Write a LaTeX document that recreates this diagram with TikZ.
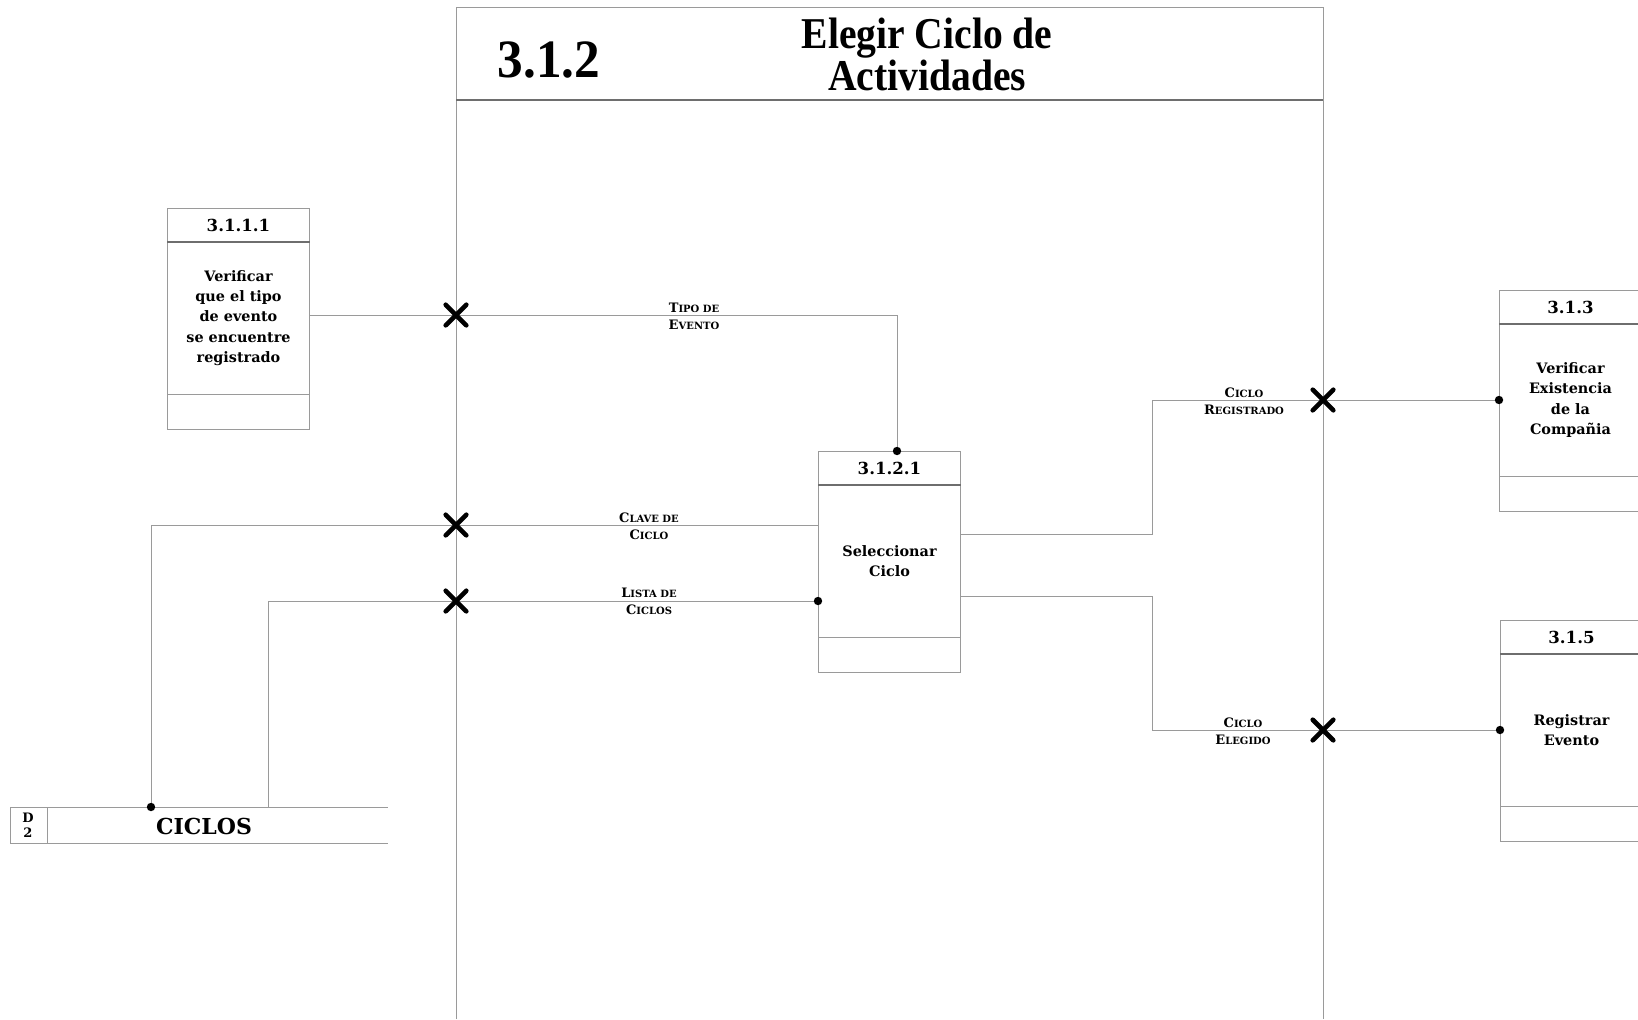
\documentclass[tikz,border=0pt]{standalone}
\usepackage{fontspec}
\setmainfont{DejaVu Serif}
\newfontfamily\titlefont{Liberation Serif}
\usetikzlibrary{arrows.meta,positioning,calc,shapes.misc}
\definecolor{LineGray}{HTML}{9A9A9A}
\definecolor{HdrGray}{HTML}{6E6E6E}
\newcommand{\smcap}[2]{{\fontsize{6.5}{8.5}\selectfont #1}{\fontsize{5}{8.5}\selectfont #2}}
\newcommand{\proceso}[4]{%
  \node[procbox] (#1) at (#2) {};
  \draw[hdrline] ([yshift=-17pt]#1.north west) -- ([yshift=-17pt]#1.north east);
  \draw[boxline] ([yshift=-93pt]#1.north west) -- ([yshift=-93pt]#1.north east);
  \node[numtext] at ([yshift=-8.5pt]#1.north) {#3};
  \node[bodytext] at ([yshift=-55pt]#1.north) {#4};}

\begin{document}
\begin{tikzpicture}[x=0.5pt,y=-0.5pt,
  boxline/.style={draw=LineGray,line width=0.5pt},
  hdrline/.style={draw=HdrGray,line width=0.7pt},
  flujo/.style={draw=LineGray,line width=0.5pt},
  procbox/.style={draw=LineGray,line width=0.5pt,minimum width=71pt,minimum height=110.5pt,anchor=north west,inner sep=0pt},
  numtext/.style={font=\fontsize{8.3}{9}\selectfont\bfseries},
  bodytext/.style={font=\fontsize{7.2}{10.2}\selectfont\bfseries,align=center},
  flabel/.style={font=\fontsize{5}{8.5}\selectfont\bfseries,align=center,inner sep=0pt},
  xmark/.style={cross out,draw=black,line width=2.3pt,line cap=round,minimum size=8pt,inner sep=0pt},
  punto/.style={circle,fill=black,inner sep=0pt,minimum size=4.2pt}]
\useasboundingbox (0,0) rectangle (1638,1019);

% marco del proceso 3.1.2
\draw[boxline] (456,1019) -- (456,7) -- (1323,7) -- (1323,1019);
\draw[hdrline] (456,100) -- (1323,100);
\coordinate (mIzq) at (456,0);
\coordinate (mDer) at (1323,0);
\node[font=\titlefont\fontsize{27}{30}\selectfont\bfseries] (num) at (549,60) {\scalebox{0.95}[1]{3.1.2}};
\node[font=\titlefont\fontsize{22}{21}\selectfont\bfseries,align=center] (titulo) at (927,54) {\scalebox{0.9}[1]{Elegir Ciclo de}\\\scalebox{0.9}[1]{Actividades}};

% procesos
\proceso{p3111}{167,208}{3.1.1.1}{Verificar\\que el tipo\\de evento\\se encuentre\\registrado}
\proceso{p3121}{818,451}{3.1.2.1}{Seleccionar\\Ciclo}
\proceso{p313}{1499,290}{3.1.3}{Verificar\\Existencia\\de la\\Compañia}
\proceso{p315}{1500,620}{3.1.5}{Registrar\\Evento}

% almacen D2
\node[minimum width=188.5pt,minimum height=18pt,anchor=north west,inner sep=0pt] (ciclos) at (10,807) {};
\draw[boxline] (ciclos.north east) -- (ciclos.north west) -- (ciclos.south west) -- (ciclos.south east);
\draw[boxline] ([xshift=18.5pt]ciclos.north west) -- ([xshift=18.5pt]ciclos.south west);
\node[font=\fontsize{6.5}{7.5}\selectfont\bfseries,align=center] (d2) at ([xshift=9pt]ciclos.west) {D\\2};
\node[font=\fontsize{11}{12}\selectfont\bfseries] (nomCiclos) at (204,826) {CICLOS};

% flujos
\coordinate (tipoB) at (897,315);
\coordinate (claveB) at (151,525);
\coordinate (listaB) at (268,601);
\coordinate (regA) at (1152,534);
\coordinate (regB) at (1152,400);
\coordinate (eleA) at (1152,596);
\coordinate (eleB) at (1152,730);
\draw[flujo] (p3111.east |- tipoB) -- (tipoB) -- (p3121.north -| tipoB);
\draw[flujo] (p3121.west |- claveB) -- (claveB) -- (ciclos.north -| claveB);
\draw[flujo] (ciclos.north -| listaB) -- (listaB) -- (p3121.west |- listaB);
\draw[flujo] (p3121.east |- regA) -- (regA) -- (regB) -- (p313.west |- regB);
\draw[flujo] (p3121.east |- eleA) -- (eleA) -- (eleB) -- (p315.west |- eleB);
\node[punto] at (p3121.north -| tipoB) {};
\node[punto] at (ciclos.north -| claveB) {};
\node[punto] at (p3121.west |- listaB) {};
\node[punto] at (p313.west |- regB) {};
\node[punto] at (p315.west |- eleB) {};

% cruces con el marco
\node[xmark] (xTipo) at (mIzq |- tipoB) {};
\node[xmark] (xClave) at (mIzq |- claveB) {};
\node[xmark] (xLista) at (mIzq |- listaB) {};
\node[xmark] (xReg) at (mDer |- regB) {};
\node[xmark] (xEle) at (mDer |- eleB) {};

% etiquetas
\node[flabel] (lTipo) at (694,316) {\smcap{T}{IPO DE}\\\smcap{E}{VENTO}};
\node[flabel] (lClave) at (649,526) {\smcap{C}{LAVE DE}\\\smcap{C}{ICLO}};
\node[flabel] (lLista) at (649,601) {\smcap{L}{ISTA DE}\\\smcap{C}{ICLOS}};
\node[flabel] (lReg) at (1244,401) {\smcap{C}{ICLO}\\\smcap{R}{EGISTRADO}};
\node[flabel] (lEle) at (1243,731) {\smcap{C}{ICLO}\\\smcap{E}{LEGIDO}};
\end{tikzpicture}
\end{document}
